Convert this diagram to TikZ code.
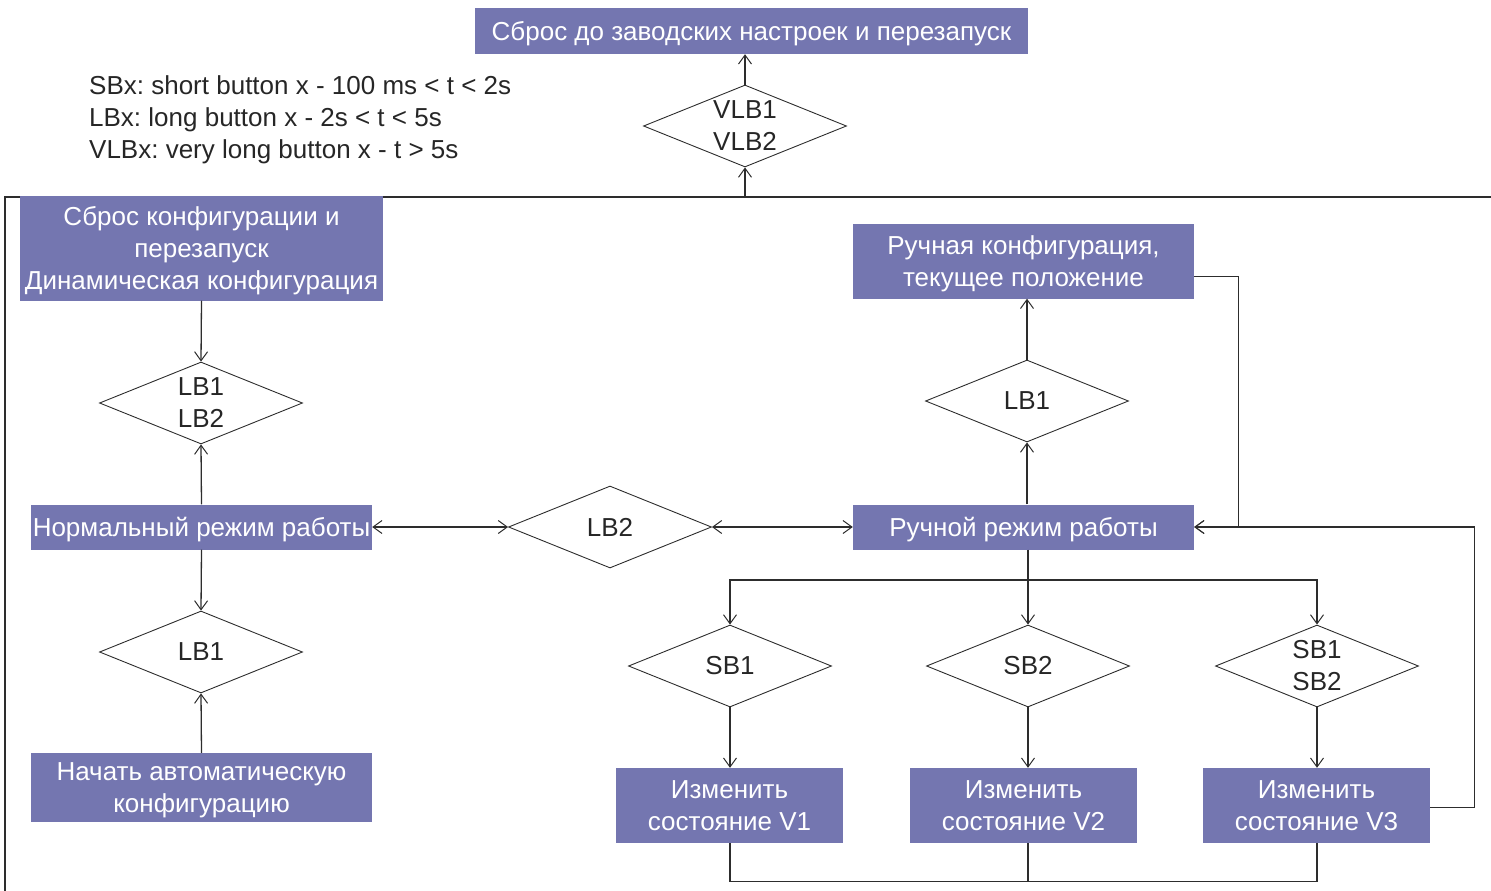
\documentclass[tikz,border=0pt]{standalone}
\usepackage{fontspec}
\setmainfont{Liberation Sans}
\usetikzlibrary{shapes.geometric,arrows.meta}
\definecolor{boxc}{RGB}{116,118,176}
\definecolor{linec}{RGB}{45,45,45}
\frenchspacing
\begin{document}
\begin{tikzpicture}[x=1pt,y=-1pt,
  font=\fontsize{26}{32}\selectfont,
  box/.style={rectangle,fill=boxc,text=white,align=center,inner sep=0pt,text depth=0pt},
  dia/.style={diamond,draw=linec,line width=0.9pt,inner sep=0pt,minimum width=203pt,minimum height=82pt},
  lbl/.style={align=center,text=black!85,inner sep=0pt},
  conn/.style={draw=linec,line width=1.3pt},
  >={Straight Barb[length=9pt,width=13pt,line width=1pt]}]
\useasboundingbox (0,0) rectangle (1491,891);
% legend
\node[lbl,anchor=west,align=left,text depth=0pt] (legend) at (89,117) {SBx: short button x - 100 ms < t < 2s\\LBx: long button x - 2s < t < 5s\\VLBx: very long button x - t > 5s};
% frame
\draw[conn] (1491,197) -- (5,197) -- (5,891);
\coordinate (vlbin) at (745,197);
\coordinate (split) at (1028,580);
% boxes
\node[box,minimum width=553pt,minimum height=46pt] (reset) at (751.5,31) {Сброс до заводских настроек и перезапуск};
\node[box,minimum width=363pt,minimum height=105pt] (cfg) at (201.5,248) {Сброс конфигурации и\\перезапуск\\Динамическая конфигурация};
\node[box,minimum width=341pt,minimum height=45pt] (norm) at (201.5,527) {Нормальный режим работы};
\node[box,minimum width=341pt,minimum height=69pt] (auto) at (201.5,787.5) {Начать автоматическую\\конфигурацию};
\node[box,minimum width=341pt,minimum height=45pt] (manual) at (1023.5,527) {Ручной режим работы};
\node[box,minimum width=341pt,minimum height=75pt] (mcfg) at (1023.5,261) {Ручная конфигурация,\\текущее положение};
\node[box,minimum width=227pt,minimum height=75pt] (v1) at (729.5,805.5) {Изменить\\состояние V1};
\node[box,minimum width=227pt,minimum height=75pt] (v2) at (1023.5,805.5) {Изменить\\состояние V2};
\node[box,minimum width=227pt,minimum height=75pt] (v3) at (1316.5,805.5) {Изменить\\состояние V3};
% diamonds
\node[dia,label={[lbl]center:VLB1\\VLB2}] (vlb) at (745,126) {};
\node[dia,label={[lbl]center:LB1\\LB2}] (lb12) at (201,403) {};
\node[dia,label={[lbl]center:LB1}] (lb1a) at (201,652) {};
\node[dia] (lb2) at (610,527) {};
\node[lbl] at (lb2) {LB2};
\node[dia,label={[lbl]center:LB1}] (lb1b) at (1027,401) {};
\node[dia,label={[lbl]center:SB1}] (sb1) at (730,666) {};
\node[dia,label={[lbl]center:SB2}] (sb2) at (1028,666) {};
\node[dia,label={[lbl]center:SB1\\SB2}] (sb12) at (1317,666) {};
% connectors
\draw[conn,->] (vlbin) -- (vlb.south);
\draw[conn,->] (vlb.north) -- (vlb.north |- reset.south);
\draw[conn,->] (cfg.south) -- (lb12.north);
\draw[conn,->] (norm.north) -- (lb12.south);
\draw[conn,->] (norm.south) -- (lb1a.north);
\draw[conn,->] (auto.north) -- (lb1a.south);
\draw[conn,<->] (norm.east) -- (lb2.west);
\draw[conn,<->] (lb2.east) -- (manual.west);
\draw[conn,->] (lb1b.south |- manual.north) -- (lb1b.south);
\draw[conn,->] (lb1b.north) -- (lb1b.north |- mcfg.south);
\draw[conn,->] ([yshift=22pt]mcfg.south east) -- ++(44,0) |- (manual.east);
\draw[conn,->] ([yshift=-2pt]v3.east) -- ++(44,0) |- (manual.east);
\draw[conn] (sb2.north |- manual.south) -- (split);
\draw[conn,->] (split) -| (sb1.north);
\draw[conn,->] (split) -| (sb12.north);
\draw[conn,->] (split) -- (sb2.north);
\draw[conn,->] (sb1.south) -- (sb1.south |- v1.north);
\draw[conn,->] (sb2.south) -- (sb2.south |- v2.north);
\draw[conn,->] (sb12.south) -- (sb12.south |- v3.north);
\draw[conn] (sb1.south |- v1.south) -- ++(0,38) -| (sb12.south |- v3.south);
\draw[conn] (sb2.south |- v2.south) -- ++(0,38);
\end{tikzpicture}
\end{document}
